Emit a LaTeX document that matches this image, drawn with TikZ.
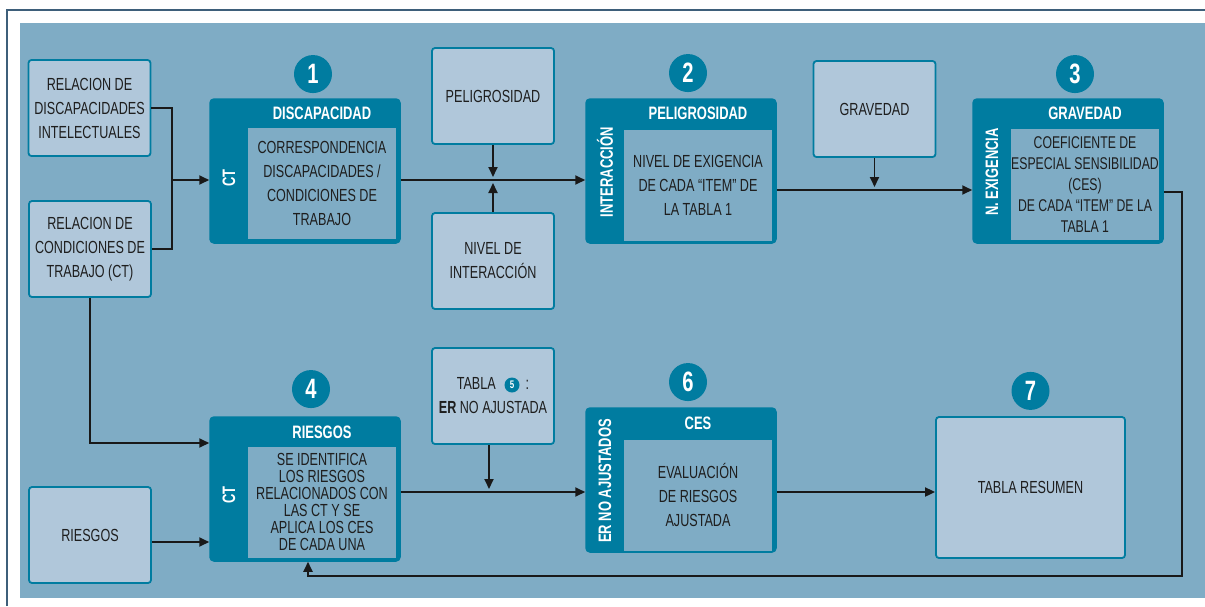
\documentclass[tikz,border=0pt]{standalone}
\usepackage{fontspec}
\setmainfont{Liberation Sans}[FakeStretch=0.72]
\usetikzlibrary{arrows.meta,positioning}
\definecolor{fondo}{RGB}{127,172,197}
\definecolor{claro}{RGB}{176,199,218}
\definecolor{petroleo}{RGB}{0,124,160}
\definecolor{marco}{RGB}{62,95,122}
\definecolor{tinta}{RGB}{30,30,30}
\tikzset{
  entrada/.style={draw=petroleo, fill=claro, line width=1.8pt, rounded corners=3pt,
    minimum width=122pt, minimum height=96pt, align=center, text=tinta,
    font=\fontsize{17.5}{24}\selectfont},
  etapa/.style={draw=petroleo, fill=petroleo, line width=1.5pt, rounded corners=4pt,
    minimum width=190pt, minimum height=144pt},
  panel/.style={fill=fondo, minimum width=148pt, minimum height=111pt, inner sep=0pt,
    align=center, text=tinta, font=\fontsize{17.5}{24}\selectfont},
  cabecera/.style={text=white, font=\fontsize{18}{18}\selectfont\bfseries},
  lateral/.style={text=white, rotate=90, font=\fontsize{18}{18}\selectfont\bfseries},
  numero/.style={circle, fill=petroleo, minimum size=38pt, inner sep=0pt, text=white,
    font=\fontsize{28}{28}\selectfont\bfseries},
  linea/.style={draw=black!90, line width=1.8pt},
  flecha/.style={linea, -{Triangle[length=10pt,width=9pt]}}
}
\begin{document}
\begin{tikzpicture}[x=1pt,y=-1pt]
  \useasboundingbox (0,0) rectangle (1205,606);
  \fill[fondo] (20,23) rectangle (1205,598);
  \draw[marco, line width=2pt] (7,606) -- (7,9.5) -- (1205,9.5);

  % entradas
  \node[entrada] (relA) at (89.5,108) {RELACION DE\\DISCAPACIDADES\\INTELECTUALES};
  \node[entrada] (relB) at (90,249) {RELACION DE\\CONDICIONES DE\\TRABAJO (CT)};
  \node[entrada] (ries) at (90,535) {RIESGOS};
  \node[entrada] (pel) at (493,96) {PELIGROSIDAD};
  \node[entrada] (niv) at (493,261) {NIVEL DE\\INTERACCIÓN};
  \node[entrada] (grav) at (874.5,109) {GRAVEDAD};
  \node[entrada] (tab) at (493,396) {TABLA\hspace{30pt}:\\\textbf{ER} NO AJUSTADA};
  \node[numero, minimum size=15pt, font=\fontsize{11}{11}\selectfont\bfseries] (n5) at (512,385) {5};

  % etapa 1
  \node[etapa] (k1) at (305,171) {};
  \node[panel] (p1) at (322,183.5) {CORRESPONDENCIA\\DISCAPACIDADES /\\CONDICIONES DE\\TRABAJO};
  \node[cabecera] (h1) at (322,113) {DISCAPACIDAD};
  \node[lateral] (s1) at (229,178) {CT};
  \node[numero, above=5pt of k1, xshift=8pt] (n1) {1};

  % etapa 2
  \node[etapa] (k2) at (681,171) {};
  \node[panel] (p2) at (698,185) {NIVEL DE EXIGENCIA\\DE CADA “ITEM” DE\\LA TABLA 1};
  \node[cabecera] (h2) at (698,113) {PELIGROSIDAD};
  \node[lateral] (s2) at (605,172) {INTERACCIÓN};
  \node[numero, above=6pt of k2, xshift=7pt] (n2) {2};

  % etapa 3
  \node[etapa] (k3) at (1068,171) {};
  \node[panel, font=\fontsize{17}{21}\selectfont] (p3) at (1085,184.5) {COEFICIENTE DE\\ESPECIAL SENSIBILIDAD\\(CES)\\DE CADA “ITEM” DE LA\\TABLA 1};
  \node[cabecera] (h3) at (1085,113) {GRAVEDAD};
  \node[lateral] (s3) at (992,172) {N. EXIGENCIA};
  \node[numero, above=5pt of k3, xshift=7pt] (n3) {3};

  % etapa 4
  \node[etapa] (k4) at (305,489) {};
  \node[panel, font=\fontsize{17.5}{17}\selectfont] (p4) at (322,502) {SE IDENTIFICA\\LOS RIESGOS\\RELACIONADOS CON\\LAS CT Y SE\\APLICA LOS CES\\DE CADA UNA};
  \node[cabecera] (h4) at (322,432) {RIESGOS};
  \node[lateral] (s4) at (229,495) {CT};
  \node[numero, above=8pt of k4, xshift=6pt] (n4) {4};

  % etapa 6
  \node[etapa] (k6) at (681,480) {};
  \node[panel] (p6) at (698,495) {EVALUACIÓN\\DE RIESGOS\\AJUSTADA};
  \node[cabecera] (h6) at (698,423) {CES};
  \node[lateral] (s6) at (605,481) {ER NO AJUSTADOS};
  \node[numero, above=6pt of k6, xshift=7pt] (n6) {6};

  % etapa 7
  \node[entrada, minimum width=189pt, minimum height=141pt] (res) at (1030.5,487.5) {TABLA RESUMEN};
  \node[numero, above=6pt of res] (n7) {7};

  % conexiones
  \coordinate (j1) at (172,180);
  \coordinate (j2) at (874.5,190);
  \coordinate (j3) at (1182,192);
  \coordinate (r1) at (1182,576);
  \coordinate (r2) at (308,576);
  \coordinate (j6) at (489,492);
  \draw[linea] (relA.east) -| (j1) |- (relB.east);
  \draw[flecha] (j1) -- (j1 -| k1.west);
  \draw[flecha] (k1.east |- j1) -- (k2.west |- j1);
  \draw[flecha, shorten >=3pt] (pel.south) -- (pel.south |- j1);
  \draw[flecha, shorten >=3pt] (niv.north) -- (niv.north |- j1);
  \draw[flecha] (k2.east |- j2) -- (k3.west |- j2);
  \draw[flecha, shorten >=3pt] (grav.south) -- (j2);
  \draw[flecha] (k3.east |- j3) -- (j3) -- (r1) -- (r2) -- (r2 |- k4.south);
  \draw[flecha] (relB.south) |- ([yshift=46pt]k4.west);
  \draw[flecha] ([yshift=-7pt]ries.east) -- ([yshift=-7pt]ries.east -| k4.west);
  \draw[flecha] (k4.east |- j6) -- (k6.west |- j6);
  \draw[flecha, shorten >=3pt] (tab.south -| j6) -- (j6);
  \draw[flecha] (k6.east |- j6) -- (res.west |- j6);
\end{tikzpicture}
\end{document}
